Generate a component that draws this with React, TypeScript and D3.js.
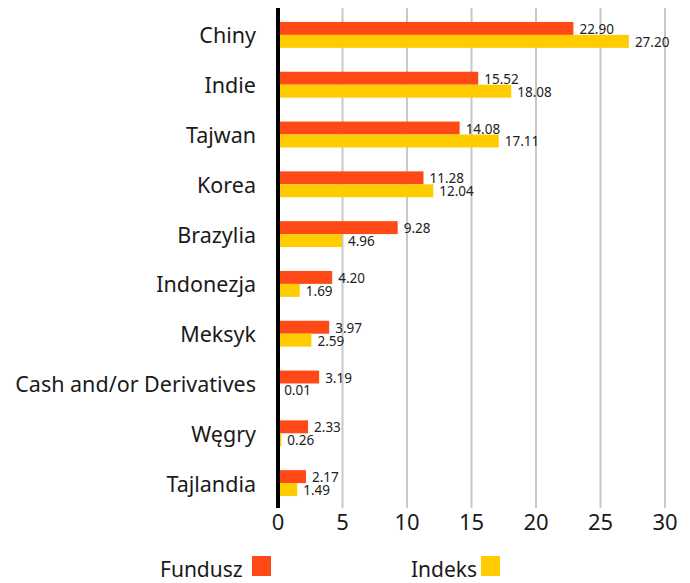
import * as d3 from "d3";

const categories = [
  "Chiny",
  "Indie",
  "Tajwan",
  "Korea",
  "Brazylia",
  "Indonezja",
  "Meksyk",
  "Cash and/or Derivatives",
  "Węgry",
  "Tajlandia",
];
const fundValues = [22.9, 15.52, 14.08, 11.28, 9.28, 4.2, 3.97, 3.19, 2.33, 2.17];
const indexValues = [27.2, 18.08, 17.11, 12.04, 4.96, 1.69, 2.59, 0.01, 0.26, 1.49];
const xTicks = [0, 5, 10, 15, 20, 25, 30];
const seriesNames = ["Fundusz", "Indeks"];
const colors = ["#FF4A17", "#FFCC00"];

const W = 690;
const H = 583;
const margin = { top: 8, right: 25, bottom: 75, left: 278 };

export default function App() {
  const innerH = H - margin.top - margin.bottom;
  const x = d3.scaleLinear().domain([0, 30]).range([0, 387]);
  const y = d3
    .scaleBand<string>()
    .domain(categories)
    .range([2, innerH])
    .paddingInner(0.48)
    .paddingOuter(0.24);
  const sub = d3.scaleBand<number>().domain([0, 1]).range([0, y.bandwidth()]);
  const font = "Noto Sans, sans-serif";
  const series = [fundValues, indexValues];
  // legend positions
  const legendX = [160, 411];
  const swatchX = [252, 481];

  return (
    <svg
      width={W}
      height={H}
      style={{ position: "absolute", left: 0, top: 0, fontFamily: font }}
    >
      <g transform={`translate(${margin.left},${margin.top})`}>
        {xTicks.slice(1).map((t) => (
          <line
            key={t}
            x1={x(t)}
            x2={x(t)}
            y1={0}
            y2={innerH}
            stroke="#c8c8c8"
            strokeWidth={2}
          />
        ))}
        {series.map((vals, si) =>
          vals.map((v, i) => (
            <rect
              key={`${si}-${i}`}
              x={x(0)}
              y={(y(categories[i]) ?? 0) + (sub(si) ?? 0)}
              width={x(v) - x(0)}
              height={sub.bandwidth()}
              fill={colors[si]}
            />
          ))
        )}
        {series.map((vals, si) =>
          vals.map((v, i) => (
            <text
              key={`l${si}-${i}`}
              x={x(v) + 6}
              y={(y(categories[i]) ?? 0) + (sub(si) ?? 0) + sub.bandwidth() - 1}
              fontSize={13.5}
              fill="#222"
            >
              {v.toFixed(2)}
            </text>
          ))
        )}
        <line x1={0} x2={0} y1={0} y2={innerH} stroke="#000" strokeWidth={4} />
        {categories.map((c) => (
          <text
            key={c}
            x={-22}
            y={(y(c) ?? 0) + y.bandwidth() / 2 + 1}
            dy="0.35em"
            textAnchor="end"
            fontSize={21.5}
            fill="#1a1a1a"
          >
            {c}
          </text>
        ))}
        {xTicks.map((t) => (
          <text
            key={t}
            x={x(t)}
            y={innerH + 22}
            textAnchor="middle"
            fontSize={22}
            fill="#1a1a1a"
          >
            {t}
          </text>
        ))}
      </g>
      <g>
        {seriesNames.map((n, i) => (
          <g key={n}>
            <text x={legendX[i]} y={577} fontSize={21} fill="#1a1a1a">
              {n}
            </text>
            <rect x={swatchX[i]} y={556} width={19} height={20} fill={colors[i]} />
          </g>
        ))}
      </g>
    </svg>
  );
}
